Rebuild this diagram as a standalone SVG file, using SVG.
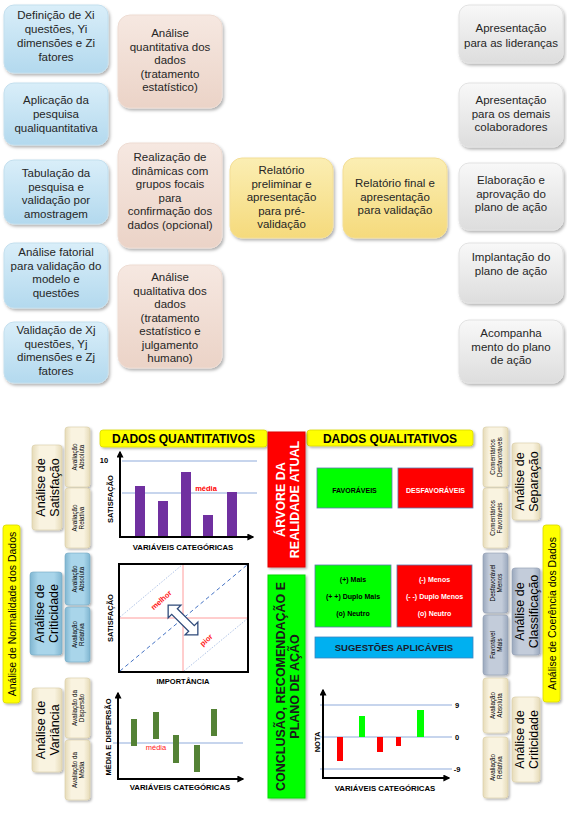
<svg xmlns="http://www.w3.org/2000/svg" width="567" height="822" viewBox="0 0 567 822">
<defs>
<filter id="sh" x="-20%" y="-20%" width="150%" height="150%"><feDropShadow dx="1.5" dy="2" stdDeviation="1.5" flood-color="#000" flood-opacity="0.3"/></filter>
<filter id="sh2" x="-20%" y="-20%" width="150%" height="150%"><feDropShadow dx="1.5" dy="1.5" stdDeviation="1" flood-color="#000" flood-opacity="0.3"/></filter>
<linearGradient id="gBlue" x1="0" y1="0" x2="0" y2="1"><stop offset="0" stop-color="#D9EEF9"/><stop offset="1" stop-color="#B3D9EE"/></linearGradient>
<linearGradient id="gPeach" x1="0" y1="0" x2="0" y2="1"><stop offset="0" stop-color="#F6E8E1"/><stop offset="1" stop-color="#EBD3C7"/></linearGradient>
<linearGradient id="gYel" x1="0" y1="0" x2="0" y2="1"><stop offset="0" stop-color="#FBEEB3"/><stop offset="1" stop-color="#F5DA7C"/></linearGradient>
<linearGradient id="gGrey" x1="0" y1="0" x2="0" y2="1"><stop offset="0" stop-color="#F8F8F8"/><stop offset="1" stop-color="#DDDDDD"/></linearGradient>
<linearGradient id="gCream" x1="0" y1="0" x2="1" y2="0"><stop offset="0" stop-color="#E6DBB8"/><stop offset="0.25" stop-color="#F9F3E0"/><stop offset="0.75" stop-color="#F9F3E0"/><stop offset="1" stop-color="#E6DBB8"/></linearGradient>
<linearGradient id="gLBlue" x1="0" y1="0" x2="1" y2="0"><stop offset="0" stop-color="#80B6D1"/><stop offset="0.25" stop-color="#A9D5EA"/><stop offset="0.75" stop-color="#A9D5EA"/><stop offset="1" stop-color="#80B6D1"/></linearGradient>
<linearGradient id="gSlate" x1="0" y1="0" x2="1" y2="0"><stop offset="0" stop-color="#9AA8BD"/><stop offset="0.25" stop-color="#C3CCDA"/><stop offset="0.75" stop-color="#C3CCDA"/><stop offset="1" stop-color="#9AA8BD"/></linearGradient>
<marker id="ar" viewBox="0 0 10 10" refX="8" refY="5" markerWidth="7" markerHeight="7" markerUnits="userSpaceOnUse" orient="auto"><path d="M0,0 L10,5 L0,10 z" fill="#000"/></marker>
<style>
.t{font-family:"Liberation Sans",Arial,sans-serif;font-size:11.5px;fill:#262626;text-anchor:middle}
.b{font-family:"Liberation Sans",Arial,sans-serif;font-weight:bold;text-anchor:middle;fill:#000}
.lab{font-family:"Liberation Sans",Arial,sans-serif;font-size:12.5px;text-anchor:middle;fill:#000}
.sm{font-family:"Liberation Sans",Arial,sans-serif;font-size:6.3px;text-anchor:middle;fill:#000}
.blue{fill:url(#gBlue);stroke:#C3DFEE;stroke-width:1;filter:url(#sh)}
.peach{fill:url(#gPeach);stroke:#EEDCD3;stroke-width:1;filter:url(#sh)}
.yel{fill:url(#gYel);stroke:#F3DE96;stroke-width:1;filter:url(#sh)}
.grey{fill:url(#gGrey);stroke:#E2E2E2;stroke-width:1;filter:url(#sh)}
.cream{fill:url(#gCream);stroke:#D8CCA6;stroke-width:0.6;filter:url(#sh2)}
.lblue{fill:url(#gLBlue);stroke:#74A7C2;stroke-width:0.6;filter:url(#sh2)}
.slate{fill:url(#gSlate);stroke:#8E9BB0;stroke-width:0.6;filter:url(#sh2)}
.ybar{fill:#FFFF00;stroke:#D8D800;stroke-width:0.8;filter:url(#sh2)}
.ax{stroke:#000;stroke-width:2;fill:none;marker-end:url(#ar)}
.gl{stroke:#B4C7E7;stroke-width:1.3}
</style>
</defs>
<rect width="567" height="822" fill="#fff"/>

<!-- top: left column -->
<g id="n-definicao"><rect class="blue" x="4" y="5" width="104" height="68" rx="10"/>
<text class="t" x="56" y="19">Definição de Xi</text><text class="t" x="56" y="33">questões, Yi</text><text class="t" x="56" y="47">dimensões e Zi</text><text class="t" x="56" y="61">fatores</text></g>
<g id="n-aplicacao"><rect class="blue" x="4" y="83" width="104" height="62" rx="10"/>
<text class="t" x="56" y="104">Aplicação da</text><text class="t" x="56" y="118">pesquisa</text><text class="t" x="56" y="132">qualiquantitativa</text></g>
<g id="n-tabulacao"><rect class="blue" x="4" y="160" width="104" height="64" rx="10"/>
<text class="t" x="56" y="177">Tabulação da</text><text class="t" x="56" y="190.5">pesquisa e</text><text class="t" x="56" y="204">validação por</text><text class="t" x="56" y="217.5">amostragem</text></g>
<g id="n-fatorial"><rect class="blue" x="4" y="243" width="104" height="65" rx="10"/>
<text class="t" x="56" y="256">Análise fatorial</text><text class="t" x="56" y="269.5">para validação do</text><text class="t" x="56" y="283">modelo e</text><text class="t" x="56" y="296.5">questões</text></g>
<g id="n-validacao"><rect class="blue" x="4" y="322" width="104" height="61" rx="10"/>
<text class="t" x="56" y="334">Validação de Xj</text><text class="t" x="56" y="347.5">questões, Yj</text><text class="t" x="56" y="361">dimensões e Zj</text><text class="t" x="56" y="374.5">fatores</text></g>

<!-- top: second column -->
<g id="n-quantitativa"><rect class="peach" x="118" y="15" width="104" height="93" rx="12"/>
<text class="t" x="170" y="37">Análise</text><text class="t" x="170" y="50.5">quantitativa dos</text><text class="t" x="170" y="64">dados</text><text class="t" x="170" y="77.5">(tratamento</text><text class="t" x="170" y="91">estatístico)</text></g>
<g id="n-dinamicas"><rect class="peach" x="118" y="143" width="104" height="105" rx="12"/>
<text class="t" x="170" y="161">Realização de</text><text class="t" x="170" y="174.5">dinâmicas com</text><text class="t" x="170" y="188">grupos focais</text><text class="t" x="170" y="201.5">para</text><text class="t" x="170" y="215">confirmação dos</text><text class="t" x="170" y="228.5">dados (opcional)</text></g>
<g id="n-qualitativa"><rect class="peach" x="118" y="265" width="104" height="103" rx="12"/>
<text class="t" x="170" y="281">Análise</text><text class="t" x="170" y="294.5">qualitativa  dos</text><text class="t" x="170" y="308">dados</text><text class="t" x="170" y="321.5">(tratamento</text><text class="t" x="170" y="335">estatístico e</text><text class="t" x="170" y="348.5">julgamento</text><text class="t" x="170" y="362">humano)</text></g>

<!-- top: yellow -->
<g id="n-preliminar"><rect class="yel" x="230" y="158" width="103" height="80" rx="12"/>
<text class="t" x="281.5" y="174">Relatório</text><text class="t" x="281.5" y="187.5">preliminar e</text><text class="t" x="281.5" y="201">apresentação</text><text class="t" x="281.5" y="214.5">para pré-</text><text class="t" x="281.5" y="228">validação</text></g>
<g id="n-final"><rect class="yel" x="343" y="158" width="104" height="80" rx="12"/>
<text class="t" x="395" y="187">Relatório final e</text><text class="t" x="395" y="201">apresentação</text><text class="t" x="395" y="214">para validação</text></g>

<!-- top: right column -->
<g id="n-liderancas"><rect class="grey" x="459" y="5" width="104" height="58" rx="10"/>
<text class="t" x="511" y="32">Apresentação</text><text class="t" x="511" y="47">para as lideranças</text></g>
<g id="n-colaboradores"><rect class="grey" x="459" y="83" width="104" height="64" rx="10"/>
<text class="t" x="511" y="104">Apresentação</text><text class="t" x="511" y="117.5">para os demais</text><text class="t" x="511" y="131">colaboradores</text></g>
<g id="n-elaboracao"><rect class="grey" x="459" y="163" width="104" height="67" rx="10"/>
<text class="t" x="511" y="184">Elaboração e</text><text class="t" x="511" y="197.5">aprovação do</text><text class="t" x="511" y="211">plano de ação</text></g>
<g id="n-implantacao"><rect class="grey" x="459" y="243" width="104" height="60" rx="10"/>
<text class="t" x="511" y="261">Implantação do</text><text class="t" x="511" y="275">plano de ação</text></g>
<g id="n-acompanhamento"><rect class="grey" x="459" y="320" width="104" height="63" rx="10"/>
<text class="t" x="511" y="337">Acompanha</text><text class="t" x="511" y="350.5">mento do plano</text><text class="t" x="511" y="364">de ação</text></g>

<!-- bottom-left labels -->
<g id="n-normalidade"><rect class="ybar" x="3" y="525" width="17" height="178" rx="3"/>
<text class="lab" font-size="10.5" style="font-size:10.5px" transform="translate(15.5,614) rotate(-90)">Análise de Normalidade dos Dados</text></g>
<g id="n-satisfacao"><rect class="cream" x="32" y="445" width="30" height="85" rx="3"/>
<text class="lab" transform="translate(47,487.5) rotate(-90)"><tspan x="0" y="-2">Análise de</tspan><tspan x="0" y="12">Satisfação</tspan></text></g>
<g id="n-sat-abs"><rect class="cream" x="65" y="427" width="25" height="60" rx="3"/>
<text class="sm" transform="translate(77.5,457) rotate(-90)"><tspan x="0" y="-1">Avaliação</tspan><tspan x="0" y="6.5">Absoluta</tspan></text></g>
<g id="n-sat-rel"><rect class="cream" x="65" y="488" width="25" height="60" rx="3"/>
<text class="sm" transform="translate(77.5,518) rotate(-90)"><tspan x="0" y="-1">Avaliação</tspan><tspan x="0" y="6.5">Relativa</tspan></text></g>
<g id="n-criticidade-l"><rect class="lblue" x="30" y="572" width="32" height="83" rx="3"/>
<text class="lab" transform="translate(46,613.5) rotate(-90)"><tspan x="0" y="-2">Análise de</tspan><tspan x="0" y="12">Criticidade</tspan></text></g>
<g id="n-crit-abs-l"><rect class="lblue" x="65" y="553" width="25" height="52" rx="3"/>
<text class="sm" transform="translate(77.5,579) rotate(-90)"><tspan x="0" y="-1">Avaliação</tspan><tspan x="0" y="6.5">Absoluta</tspan></text></g>
<g id="n-crit-rel-l"><rect class="lblue" x="65" y="607" width="25" height="55" rx="3"/>
<text class="sm" transform="translate(77.5,634.5) rotate(-90)"><tspan x="0" y="-1">Avaliação</tspan><tspan x="0" y="6.5">Relativa</tspan></text></g>
<g id="n-variancia"><rect class="cream" x="32" y="688" width="30" height="84" rx="3"/>
<text class="lab" transform="translate(47,730) rotate(-90)"><tspan x="0" y="-2">Análise de</tspan><tspan x="0" y="12">Variância</tspan></text></g>
<g id="n-dispersao"><rect class="cream" x="65" y="678" width="25" height="60" rx="3"/>
<text class="sm" transform="translate(77.5,708) rotate(-90)"><tspan x="0" y="-1">Avaliação da</tspan><tspan x="0" y="6.5">Dispersão</tspan></text></g>
<g id="n-media"><rect class="cream" x="65" y="740" width="25" height="60" rx="3"/>
<text class="sm" transform="translate(77.5,770) rotate(-90)"><tspan x="0" y="-1">Avaliação da</tspan><tspan x="0" y="6.5">Média</tspan></text></g>

<!-- bottom-right labels -->
<g id="n-coerencia"><rect class="ybar" x="543" y="525" width="17" height="177" rx="3"/>
<text class="lab" style="font-size:10.5px" transform="translate(555.5,613.5) rotate(-90)">Análise de Coerência dos Dados</text></g>
<g id="n-com-desf"><rect class="cream" x="483" y="427" width="25" height="60" rx="3"/>
<text class="sm" transform="translate(495.5,457) rotate(-90)"><tspan x="0" y="-1">Comentários</tspan><tspan x="0" y="6.5">Desfavoráveis</tspan></text></g>
<g id="n-com-fav"><rect class="cream" x="483" y="488" width="25" height="60" rx="3"/>
<text class="sm" transform="translate(495.5,518) rotate(-90)"><tspan x="0" y="-1">Comentários</tspan><tspan x="0" y="6.5">Favoráveis</tspan></text></g>
<g id="n-separacao"><rect class="cream" x="512" y="443" width="28" height="77" rx="3"/>
<text class="lab" transform="translate(526,481.5) rotate(-90)"><tspan x="0" y="-2">Análise de</tspan><tspan x="0" y="12">Separação</tspan></text></g>
<g id="n-desf-menos"><rect class="slate" x="483" y="553" width="25" height="60" rx="3"/>
<text class="sm" transform="translate(495.5,583) rotate(-90)"><tspan x="0" y="-1">Desfavorável</tspan><tspan x="0" y="6.5">Menos</tspan></text></g>
<g id="n-fav-mais"><rect class="slate" x="483" y="615" width="25" height="60" rx="3"/>
<text class="sm" transform="translate(495.5,645) rotate(-90)"><tspan x="0" y="-1">Favorável</tspan><tspan x="0" y="6.5">Mais</tspan></text></g>
<g id="n-classificacao"><rect class="slate" x="512" y="568" width="28" height="87" rx="3"/>
<text class="lab" transform="translate(526,611.5) rotate(-90)"><tspan x="0" y="-2">Análise de</tspan><tspan x="0" y="12">Classificação</tspan></text></g>
<g id="n-crit-abs-r"><rect class="cream" x="483" y="678" width="25" height="55" rx="3"/>
<text class="sm" transform="translate(495.5,705.5) rotate(-90)"><tspan x="0" y="-1">Avaliação</tspan><tspan x="0" y="6.5">Absoluta</tspan></text></g>
<g id="n-crit-rel-r"><rect class="cream" x="483" y="737" width="25" height="61" rx="3"/>
<text class="sm" transform="translate(495.5,767.5) rotate(-90)"><tspan x="0" y="-1">Avaliação</tspan><tspan x="0" y="6.5">Relativa</tspan></text></g>
<g id="n-criticidade-r"><rect class="cream" x="512" y="697" width="28" height="85" rx="3"/>
<text class="lab" transform="translate(526,739.5) rotate(-90)"><tspan x="0" y="-2">Análise de</tspan><tspan x="0" y="12">Criticidade</tspan></text></g>

<!-- headers -->
<g id="n-dados-quant"><rect class="ybar" x="100" y="430" width="167" height="17" rx="3"/>
<text class="b" font-size="12" x="183.5" y="443">DADOS QUANTITATIVOS</text></g>
<g id="n-dados-qual"><rect class="ybar" x="307" y="430" width="166" height="16" rx="3"/>
<text class="b" font-size="12" x="390" y="442.5">DADOS QUALITATIVOS</text></g>
<g id="n-arvore"><rect x="268" y="432" width="37" height="135" fill="#FF0000" stroke="#E00000" filter="url(#sh2)"/>
<text class="b" font-size="12.5" style="fill:#fff" transform="translate(286.5,499.5) rotate(-90)"><tspan x="0" y="-2">ÁRVORE DA</tspan><tspan x="0" y="12.5">REALIDADE ATUAL</tspan></text></g>
<g id="n-conclusao"><rect x="268" y="575" width="37" height="223" fill="#00FF00" stroke="#00DD00" filter="url(#sh2)"/>
<text class="b" font-size="12.5" style="fill:#1a1a1a" transform="translate(286.5,686.5) rotate(-90)"><tspan x="0" y="-2">CONCLUSÃO, RECOMENDAÇÃO E</tspan><tspan x="0" y="12.5">PLANO DE AÇÃO</tspan></text></g>

<!-- qualitative boxes -->
<g id="n-favoraveis"><rect x="317" y="468" width="75" height="40" fill="#00FF00" stroke="#5A7BB0" stroke-width="0.8"/>
<text class="b" font-size="7" x="354.5" y="493">FAVORÁVEIS</text></g>
<g id="n-desfavoraveis"><rect x="398" y="468" width="75" height="40" fill="#FF0000" stroke="#5A7BB0" stroke-width="0.8"/>
<text class="b" font-size="7" style="fill:#fff" x="435.5" y="493">DESFAVORÁVEIS</text></g>
<g id="n-mais"><rect x="315" y="565" width="76" height="62" fill="#00FF00" stroke="#5A7BB0" stroke-width="0.8"/>
<text class="b" font-size="7" x="353" y="581.5">(+) Mais</text><text class="b" font-size="7" x="353" y="599">(+ +) Duplo Mais</text><text class="b" font-size="7" x="353" y="616">(o) Neutro</text></g>
<g id="n-menos"><rect x="397" y="565" width="75" height="62" fill="#FF0000" stroke="#5A7BB0" stroke-width="0.8"/>
<text class="b" font-size="7" style="fill:#fff" x="434.5" y="581.5">(-) Menos</text><text class="b" font-size="7" style="fill:#fff" x="434.5" y="599">(- -) Duplo Menos</text><text class="b" font-size="7" style="fill:#fff" x="434.5" y="616">(o) Neutro</text></g>
<g id="n-sugestoes"><rect x="315" y="637" width="158" height="21" fill="#00B0F0" stroke="#3E86C0" stroke-width="0.8"/>
<text class="b" font-size="9.5" style="fill:#1a1a2a" x="394" y="651">SUGESTÕES APLICÁVEIS</text></g>

<!-- charts (axes as connectors) -->
<g id="connectors">
<g id="chart-quant">
<line class="gl" x1="122" y1="461" x2="257" y2="461"/>
<line class="gl" x1="122" y1="493" x2="257" y2="493"/>
<g fill="#7030A0"><rect x="135" y="486" width="10" height="51"/><rect x="158" y="501" width="10" height="36"/><rect x="181" y="472" width="10" height="65"/><rect x="203" y="515" width="10" height="22"/><rect x="227" y="492" width="10" height="45"/></g>
<line class="ax" x1="120" y1="538" x2="120" y2="452"/>
<line class="ax" x1="119" y1="537" x2="253" y2="537"/>
<text class="b" font-size="7.5" x="104" y="463">10</text>
<text class="b" font-size="7.5" style="fill:#FF0000" x="206" y="491">média</text>
<text class="b" font-size="7.5" transform="translate(112.5,499) rotate(-90)">SATISFAÇÃO</text>
<text class="b" font-size="7.8" x="183" y="550">VARIÁVEIS  CATEGÓRICAS</text>
</g>
<g id="chart-matrix">
<rect x="119" y="564" width="129" height="108" fill="#fff" stroke="#000" stroke-width="2"/>
<line x1="183" y1="565" x2="183" y2="671" stroke="#FF9C9C" stroke-width="1"/>
<line x1="120" y1="618" x2="247" y2="618" stroke="#FF9C9C" stroke-width="1"/>
<line x1="120" y1="671" x2="247" y2="565" stroke="#4472C4" stroke-width="1" stroke-dasharray="4,3"/>
<line x1="120" y1="617" x2="182" y2="565" stroke="#9DB5E0" stroke-width="0.8" stroke-dasharray="1.5,1.5"/>
<line x1="184" y1="671" x2="247" y2="619" stroke="#9DB5E0" stroke-width="0.8" stroke-dasharray="1.5,1.5"/>
<path d="M-21,0 L-12,-9 L-12,-4 L12,-4 L12,-9 L21,0 L12,9 L12,4 L-12,4 L-12,9 Z" transform="translate(183,620) rotate(45)" fill="#fff" stroke="#2F4A7A" stroke-width="1.3"/>
<text class="b" font-size="7.5" style="fill:#FF2020" transform="translate(163,602) rotate(-42)">melhor</text>
<text class="b" font-size="7.5" style="fill:#FF2020" transform="translate(208,642) rotate(-42)">pior</text>
<text class="b" font-size="7.5" transform="translate(112.5,618) rotate(-90)">SATISFAÇÃO</text>
<text class="b" font-size="7.5" x="183" y="684">IMPORTÂNCIA</text>
</g>
<g id="chart-dispersao">
<line class="gl" x1="113" y1="743" x2="243" y2="743"/>
<g fill="#548235"><rect x="131" y="719" width="6" height="27"/><rect x="153" y="712" width="6" height="27"/><rect x="173" y="735" width="6" height="28"/><rect x="194" y="745" width="6" height="27"/><rect x="211" y="709" width="6" height="27"/></g>
<line class="ax" x1="118" y1="780" x2="118" y2="693"/>
<line class="ax" x1="117" y1="779" x2="243" y2="779"/>
<text class="b" font-size="7.5" style="fill:#FF2020;font-weight:normal" x="156" y="750">média</text>
<text class="b" font-size="7.5" transform="translate(110.5,737) rotate(-90)">MÉDIA E DISPERSÃO</text>
<text class="b" font-size="7.8" x="180" y="790">VARIÁVEIS  CATEGÓRICAS</text>
</g>
<g id="chart-nota">
<line class="gl" x1="320" y1="705" x2="452" y2="705"/>
<line class="gl" x1="320" y1="737" x2="452" y2="737"/>
<line class="gl" x1="320" y1="769" x2="452" y2="769"/>
<g fill="#FF0000"><rect x="337" y="737" width="6" height="24"/><rect x="377" y="737" width="6" height="15"/><rect x="396" y="737" width="5" height="9"/></g>
<g fill="#00FF00"><rect x="359" y="716" width="6" height="21"/><rect x="417" y="710" width="7" height="27"/></g>
<line class="ax" x1="323" y1="779" x2="323" y2="690"/>
<line class="ax" x1="322" y1="778" x2="449" y2="778"/>
<text class="b" font-size="7.5" x="457" y="708">9</text>
<text class="b" font-size="7.5" x="457" y="740">0</text>
<text class="b" font-size="7.5" x="457" y="772">-9</text>
<text class="b" font-size="7.5" transform="translate(319.5,742) rotate(-90)">NOTA</text>
<text class="b" font-size="7.8" x="385" y="791">VARIÁVEIS  CATEGÓRICAS</text>
</g>
</g>
</svg>
